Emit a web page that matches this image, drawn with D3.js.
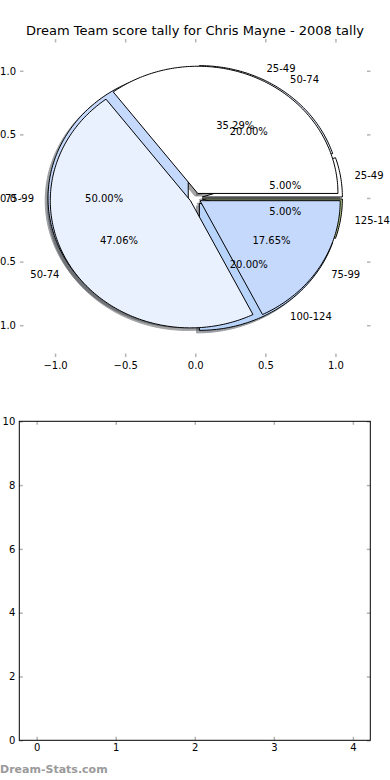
<!DOCTYPE html>
<html>
<head>
<meta charset="utf-8">
<script src="https://cdn.jsdelivr.net/npm/d3@7"></script>
<style>
  body { margin: 0; background: #fff; }
  text { font-family: "DejaVu Sans", sans-serif; }
</style>
</head>
<body>
<svg id="chart" width="390" height="780"></svg>
<script>
// two pies drawn on the same axes (the second one on top)
var labelsUnder = ["25-49", "50-74", "75-99", "100-124", "125-149"];
var valuesUnder = [1, 4, 10, 4, 1];
var labelsOver = ["25-49", "50-74", "75-99"];
var valuesOver = [6, 8, 3];
var sliceColors = ["#ffffff", "#eaf1fe", "#c5d9fd", "#b9d4fb", "#b4c98a"];
var explodeUnder = 0.05, explodeOver = 0.04;

var pieTicks = [-1, -0.5, 0, 0.5, 1];
var emptyXTicks = [0, 1, 2, 3, 4];
var emptyYTicks = [0, 2, 4, 6, 8, 10];

var title = "Dream Team score tally for Chris Mayne - 2008 tally";

var svg = d3.select("#chart");

var px = d3.scaleLinear().domain([-1.25, 1.25]).range([20, 370.5]);
var py = d3.scaleLinear().domain([-1.25, 1.25]).range([357, 39]);

var bx = d3.scaleLinear().domain([-0.22, 4.22]).range([19.3, 370.3]);
var by = d3.scaleLinear().domain([0, 10]).range([740.3, 421.3]);

var tickColor = "#b4b4b4";

function styleAxis(g) {
    g.select(".domain").remove();
    g.selectAll(".tick line").attr("stroke", tickColor).attr("stroke-width", 1.5);
    g.selectAll(".tick text").attr("fill", "#000").attr("font-size", 10)
        .attr("font-family", "DejaVu Sans");
}

// pie axes ticks (no frame)
var fmt = d3.format(".1f");
svg.append("g").attr("transform", "translate(0,357)")
    .call(d3.axisBottom(px).tickValues(pieTicks).tickFormat(fmt).tickSizeInner(-3.5).tickSizeOuter(0).tickPadding(4.5))
    .call(styleAxis);
svg.append("g").attr("transform", "translate(0,39)")
    .call(d3.axisTop(px).tickValues(pieTicks).tickFormat("").tickSizeInner(-3.5).tickSizeOuter(0))
    .call(styleAxis);
svg.append("g").attr("transform", "translate(20,0)")
    .call(d3.axisLeft(py).tickValues(pieTicks).tickFormat(fmt).tickSizeInner(-3.5).tickSizeOuter(0).tickPadding(4))
    .call(styleAxis);
svg.append("g").attr("transform", "translate(370.5,0)")
    .call(d3.axisRight(py).tickValues(pieTicks).tickFormat("").tickSizeInner(-3.5).tickSizeOuter(0))
    .call(styleAxis);

svg.append("text")
    .attr("x", 195).attr("y", 35)
    .attr("text-anchor", "middle")
    .attr("font-size", 13)
    .text(title);

function layout(values, labels, explode) {
    var total = d3.sum(values);
    return d3.pie().sort(null).startAngle(0).endAngle(2 * Math.PI)(values)
        .map(function(d, i) {
            var mid = (d.startAngle + d.endAngle) / 2;
            return {
                a0: d.startAngle, a1: d.endAngle, mid: mid,
                ox: explode * Math.cos(mid), oy: explode * Math.sin(mid),
                label: labels[i],
                pct: d3.format(".2f")(d.value / total * 100) + "%",
                color: sliceColors[i % sliceColors.length]
            };
        });
}

var line = d3.line().x(function(p) { return px(p[0]); }).y(function(p) { return py(p[1]); });

function wedgePoints(s, dx, dy) {
    var pts = [[s.ox + dx, s.oy + dy]];
    var n = Math.max(2, Math.ceil((s.a1 - s.a0) / (Math.PI / 180)));
    for (var k = 0; k <= n; k++) {
        var t = s.a0 + (s.a1 - s.a0) * k / n;
        pts.push([s.ox + dx + Math.cos(t), s.oy + dy + Math.sin(t)]);
    }
    pts.push([s.ox + dx, s.oy + dy]);
    return pts;
}

var under = layout(valuesUnder, labelsUnder, explodeUnder);
var over = layout(valuesOver, labelsOver, explodeOver);

function shadowColor(c) {
    var r = d3.rgb(c);
    return d3.rgb(r.r * 0.3, r.g * 0.3, r.b * 0.3).formatHex();
}

function drawShadows(slices) {
    svg.append("g").selectAll("path").data(slices).enter().append("path")
        .attr("d", function(s) { return line(wedgePoints(s, -0.02, -0.02)) + "Z"; })
        .attr("fill", function(s) { return shadowColor(s.color); })
        .attr("stroke", function(s) { return shadowColor(s.color); })
        .attr("stroke-width", 1)
        .attr("opacity", 0.5);
}

function drawWedges(slices) {
    svg.append("g").selectAll("path").data(slices).enter().append("path")
        .attr("d", function(s) { return line(wedgePoints(s, 0, 0)) + "Z"; })
        .attr("fill", function(s) { return s.color; })
        .attr("stroke", "#000")
        .attr("stroke-width", 1)
        .attr("stroke-linejoin", "round");
}

function drawTexts(slices) {
    var g = svg.append("g").attr("font-size", 10);
    g.selectAll("text.lab").data(slices).enter().append("text")
        .attr("class", "lab")
        .attr("x", function(s) { return px(s.ox + 1.1 * Math.cos(s.mid)); })
        .attr("y", function(s) { return py(s.oy + 1.1 * Math.sin(s.mid)); })
        .attr("dy", "0.36em")
        .attr("text-anchor", function(s) { return s.ox + 1.1 * Math.cos(s.mid) > 0 ? "start" : "end"; })
        .text(function(s) { return s.label; });
    g.selectAll("text.pct").data(slices).enter().append("text")
        .attr("class", "pct")
        .attr("x", function(s) { return px(s.ox + 0.6 * Math.cos(s.mid)); })
        .attr("y", function(s) { return py(s.oy + 0.6 * Math.sin(s.mid)); })
        .attr("dy", "0.36em")
        .attr("text-anchor", "middle")
        .text(function(s) { return s.pct; });
}

drawShadows(under);
drawShadows(over);
drawWedges(under);
drawWedges(over);
drawTexts(under);
drawTexts(over);

// empty lower axes
var intFmt = d3.format("d");
svg.append("g").attr("transform", "translate(0,740.3)")
    .call(d3.axisBottom(bx).tickValues(emptyXTicks).tickFormat(intFmt).tickSizeInner(-3.5).tickSizeOuter(0).tickPadding(3.5))
    .call(styleAxis);
svg.append("g").attr("transform", "translate(0,421.3)")
    .call(d3.axisTop(bx).tickValues(emptyXTicks).tickFormat("").tickSizeInner(-3.5).tickSizeOuter(0))
    .call(styleAxis);
svg.append("g").attr("transform", "translate(19.3,0)")
    .call(d3.axisLeft(by).tickValues(emptyYTicks).tickFormat(intFmt).tickSizeInner(-3.5).tickSizeOuter(0).tickPadding(4))
    .call(styleAxis);
svg.append("g").attr("transform", "translate(370.3,0)")
    .call(d3.axisRight(by).tickValues(emptyYTicks).tickFormat("").tickSizeInner(-3.5).tickSizeOuter(0))
    .call(styleAxis);
svg.append("rect")
    .attr("x", bx.range()[0]).attr("y", by.range()[1])
    .attr("width", bx.range()[1] - bx.range()[0])
    .attr("height", by.range()[0] - by.range()[1])
    .attr("fill", "none").attr("stroke", "#000").attr("stroke-width", 1);

svg.append("text")
    .attr("x", 0).attr("y", 773)
    .attr("font-size", 11).attr("font-weight", "bold")
    .attr("fill", "#9a9a9a")
    .text("Dream-Stats.com");
</script>
</body>
</html>
